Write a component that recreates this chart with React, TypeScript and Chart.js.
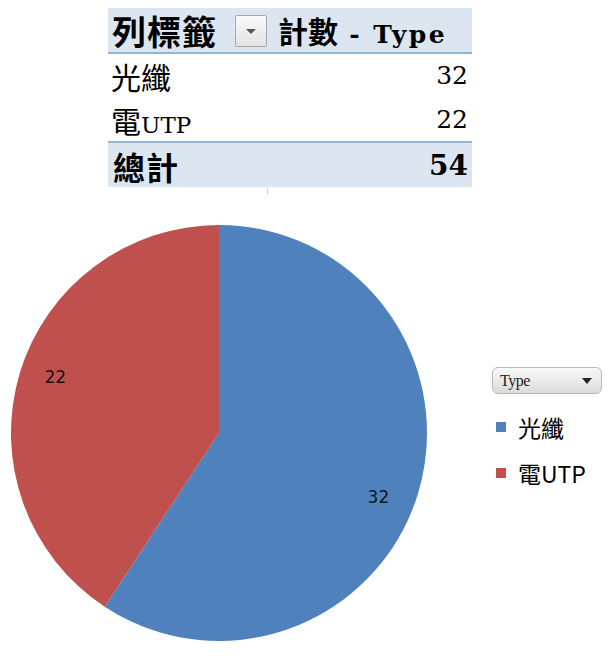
import React, { useEffect, useRef } from "react";
import { Chart, registerables } from "chart.js";

Chart.register(...registerables);

const categories = ["光纖", "電UTP"];
const counts = [32, 22];
const totalLabel = "總計";
const headerRow = "列標籤";
const headerValue = "計數 - Type";
const legendTitle = "Type";
const colors = ["#4F81BD", "#C0504D"];

const labelPlugin = {
  id: "sliceLabels",
  afterDatasetsDraw(chart: any) {
    const ctx = chart.ctx;
    const meta = chart.getDatasetMeta(0);
    ctx.save();
    ctx.font = "17px 'DejaVu Sans', sans-serif";
    ctx.fillStyle = "#111";
    ctx.textAlign = "center";
    ctx.textBaseline = "middle";
    meta.data.forEach((arc: any, i: number) => {
      const p = arc.getProps(["x", "y", "startAngle", "endAngle", "outerRadius"], true);
      const mid = (p.startAngle + p.endAngle) / 2;
      const r = p.outerRadius * 0.82;
      const x = p.x + Math.cos(mid) * r + (i === 0 ? -4 : 0);
      const y = p.y + Math.sin(mid) * r + (i === 0 ? 17 : -6);
      ctx.fillText(String(counts[i]), x, y);
    });
    ctx.restore();
  },
};

const cjk = "'Noto Sans CJK TC', sans-serif";
const latinFont = "'DejaVu Serif', 'Liberation Serif', serif";

function Mixed({ text, size, latinSize, bold, spacing, latinSpacing }: { text: string; size: number; latinSize: number; bold?: boolean; spacing?: number; latinSpacing?: number }) {
  const parts: { s: string; latin: boolean }[] = [];
  for (const ch of text) {
    const latin = ch.charCodeAt(0) < 128;
    const last = parts[parts.length - 1];
    if (last && last.latin === latin) last.s += ch;
    else parts.push({ s: ch, latin });
  }
  return (
    <span style={{ whiteSpace: "pre", fontWeight: bold ? "bold" : "normal" }}>
      {parts.map((p, i) => (
        <span key={i} style={p.latin ? { fontFamily: latinFont, fontSize: latinSize, letterSpacing: latinSpacing || 0 } : { fontFamily: cjk, fontSize: size, letterSpacing: spacing || 0 }}>{p.s}</span>
      ))}
    </span>
  );
}

export default function App() {
  const ref = useRef<HTMLCanvasElement>(null);
  useEffect(() => {
    if (!ref.current) return;
    const chart = new Chart(ref.current, {
      type: "pie",
      data: {
        labels: categories,
        datasets: [{ data: counts, backgroundColor: colors, borderWidth: 0 }],
      },
      options: {
        responsive: false,
        animation: false,
        layout: { padding: 0 },
        plugins: { legend: { display: false }, tooltip: { enabled: false } },
      },
      plugins: [labelPlugin],
    });
    return () => chart.destroy();
  }, []);

  const total = counts.reduce((a, b) => a + b, 0);
  const cell: React.CSSProperties = { position: "absolute", lineHeight: "40px", color: "#000", whiteSpace: "nowrap" };

  return (
    <div style={{ position: "fixed", left: 0, top: 0, width: 608, height: 661, background: "#fff", overflow: "hidden" }}>
      {/* Pivot table */}
      <div style={{ position: "absolute", left: 108, top: 8, width: 364, height: 44, background: "#DCE6F1", borderBottom: "2px solid #95B3D7" }} />
      <div style={{ ...cell, left: 112, top: 11 }}><Mixed text={headerRow} size={34} latinSize={26} bold spacing={1} /></div>
      <div style={{ position: "absolute", left: 235, top: 15, width: 32, height: 32, border: "1px solid #A8A8A8", borderRadius: 2, background: "linear-gradient(#FAFAFA, #E2E2E2)", boxSizing: "border-box" }}>
        <div style={{ position: "absolute", left: 10, top: 13, width: 0, height: 0, borderLeft: "5px solid transparent", borderRight: "5px solid transparent", borderTop: "5px solid #555" }} />
      </div>
      <div style={{ ...cell, left: 278, top: 10 }}><Mixed text={headerValue} size={30} latinSize={25} bold latinSpacing={2.5} /></div>

      {categories.map((c, i) => (
        <React.Fragment key={c}>
          <div style={{ ...cell, left: 111, top: 56 + i * 44 }}><Mixed text={c} size={30} latinSize={23} /></div>
          <div style={{ ...cell, right: 608 - 468, top: 56 + i * 44 }}><Mixed text={String(counts[i])} size={30} latinSize={25} /></div>
        </React.Fragment>
      ))}

      <div style={{ position: "absolute", left: 108, top: 141, width: 364, height: 46, background: "#DCE6F1", borderTop: "2px solid #95B3D7", boxSizing: "border-box" }} />
      <div style={{ ...cell, left: 113, top: 146 }}><Mixed text={totalLabel} size={32} latinSize={28} bold spacing={1} /></div>
      <div style={{ ...cell, right: 608 - 468, top: 146 }}><Mixed text={String(total)} size={30} latinSize={28} bold /></div>
      <div style={{ position: "absolute", left: 267, top: 188, width: 1, height: 6, background: "#ccc" }} />

      {/* Pie */}
      <canvas ref={ref} width={416} height={416} style={{ position: "absolute", left: 11, top: 225, width: 416, height: 416 }} />

      {/* Legend */}
      <div style={{ position: "absolute", left: 492, top: 367, width: 110, height: 27, border: "1px solid #B8B8B8", borderRadius: 6, background: "linear-gradient(#F8F8F8, #DCDCDC)", boxSizing: "border-box" }}>
        <div style={{ position: "absolute", left: 7, top: 2, fontFamily: "'Liberation Serif', serif", fontSize: 16, lineHeight: "21px", color: "#222", letterSpacing: -0.5 }}>{legendTitle}</div>
        <div style={{ position: "absolute", left: 89, top: 10, width: 0, height: 0, borderLeft: "5px solid transparent", borderRight: "5px solid transparent", borderTop: "6px solid #222" }} />
      </div>
      {categories.map((c, i) => (
        <div key={c} style={{ position: "absolute", left: 496, top: 412 + i * 46, height: 30, display: "flex", alignItems: "center" }}>
          <div style={{ width: 10, height: 10, background: colors[i], marginRight: 12 }} />
          <div style={{ fontFamily: "'Noto Sans CJK TC', 'DejaVu Sans', sans-serif", fontSize: 23, lineHeight: "30px", color: "#000" }}>{c}</div>
        </div>
      ))}
    </div>
  );
}
